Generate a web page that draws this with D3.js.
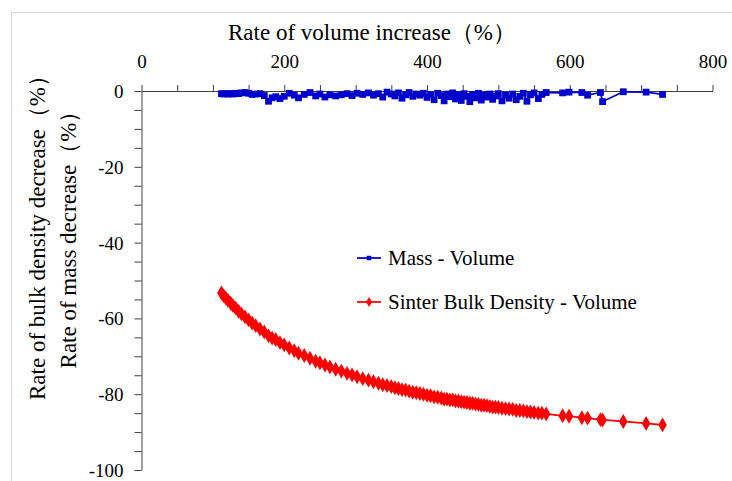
<!DOCTYPE html>
<html>
<head>
<meta charset="utf-8">
<script src="https://cdn.jsdelivr.net/npm/d3@7"></script>
<style>
  body { margin: 0; background: #fff; }
  svg { display: block; }
</style>
</head>
<body>
<svg id="chart"></svg>
<script>
// rate of volume increase (%), shared by both series
const volume = [
  112, 115, 118, 121, 125, 128, 132, 136, 140, 145,
  150, 155, 160, 166, 172, 178, 183, 188, 194, 200,
  207, 214, 220, 228, 236, 244, 250, 257, 264, 272,
  280, 288, 295, 302, 310, 318, 325, 332, 338, 344,
  350, 355, 360, 365, 370, 375, 380, 385, 390, 395,
  400, 405, 410, 415, 420, 424, 428, 432, 436, 440,
  444, 448, 452, 456, 460, 464, 468, 472, 476, 480,
  484, 488, 492, 496, 500, 505, 510, 515, 520, 525,
  530, 535, 540, 545, 550, 556, 561, 567, 590, 599,
  617, 625, 643, 646, 675, 707, 730
];

// Mass - Volume
const massRate = [
  -0.7, -0.8, -0.7, -0.8, -0.7, -0.8, -0.6, -0.7, -0.5, -0.4,
  -0.6, -0.9, -0.8, -0.7, -1.2, -2.7, -1.8, -1.5, -2.0, -1.4,
  -0.6, -1.1, -1.8, -0.9, -0.4, -1.3, -0.8, -1.6, -1.0, -1.3,
  -1.0, -0.7, -1.2, -0.6, -0.9, -0.5, -1.1, -0.7, -1.6, -0.3,
  -0.8, -1.3, -0.5, -1.9, -1.0, -0.4, -1.4, -0.8, -1.1, -0.6,
  -1.7, -0.9, -2.3, -0.6, -1.2, -2.6, -0.8, -1.5, -0.5, -2.1,
  -1.0, -2.5, -0.7, -1.4, -2.8, -0.9, -1.8, -0.6, -2.4, -1.1,
  -1.6, -0.8, -2.2, -1.3, -0.7, -2.6, -1.1, -1.9, -0.8, -2.3,
  -1.4, -0.6, -2.7, -1.0, -0.5, -2.0, -0.9, -0.4, -0.5, -0.3,
  -0.4, -1.1, -0.4, -2.8, -0.2, -0.3, -0.9
];

// Sinter Bulk Density - Volume
const densityRate = [
  -53.3, -54.0, -54.6, -55.2, -56.0, -56.6, -57.3, -58.1, -58.8, -59.6,
  -60.4, -61.2, -61.9, -62.8, -63.6, -64.6, -65.2, -65.6, -66.4, -67.0,
  -67.8, -68.5, -69.2, -69.8, -70.5, -71.3, -71.7, -72.3, -72.8, -73.4,
  -73.9, -74.5, -74.9, -75.4, -75.9, -76.3, -76.7, -77.1, -77.5, -77.7,
  -78.0, -78.3, -78.5, -78.8, -78.9, -79.2, -79.5, -79.6, -79.8, -80.0,
  -80.3, -80.4, -80.7, -80.8, -81.0, -81.3, -81.3, -81.5, -81.5, -81.8,
  -81.8, -82.0, -82.1, -82.2, -82.4, -82.4, -82.6, -82.7, -82.9, -82.9,
  -83.0, -83.2, -83.4, -83.4, -83.5, -83.7, -83.8, -83.9, -84.0, -84.3,
  -84.3, -84.4, -84.6, -84.7, -84.8, -85.0, -85.0, -85.2, -85.7, -85.8,
  -86.2, -86.3, -86.7, -86.8, -87.2, -87.7, -88.1
];

const xTicks = d3.range(0, 801, 50);
const yTicks = d3.range(-100, 1, 5);

const width = 732, height = 481;
const serif = '"Liberation Serif", serif';
const svg = d3.select('#chart').attr('width', width).attr('height', height)
  .style('font-family', serif, 'important');

// chart frame, things outside it are clipped
svg.append('clipPath').attr('id', 'frame')
  .append('rect').attr('x', 11).attr('y', 12).attr('width', width).attr('height', height);
const root = svg.append('g').attr('clip-path', 'url(#frame)');
root.append('rect')
  .attr('x', 11.5).attr('y', 12.5).attr('width', width).attr('height', height)
  .attr('fill', '#fff').attr('stroke', '#d9d9d9');

const x = d3.scaleLinear().domain([0, 800]).range([141.5, 712.5]);
const y = d3.scaleLinear().domain([-100, 0]).range([470, 91]);

// axis generator writes its own font attrs on the group, so reset them after
function styleAxis(g, dy) {
  g.attr('font-family', null).attr('font-size', 19);
  g.selectAll('path, line').attr('stroke', '#404040');
  g.selectAll('text').attr('fill', '#000').attr('dy', dy)
    .style('font-family', serif, 'important');
}

// x axis sits on y = 0, ticks point up, labels above
root.append('g')
  .attr('transform', `translate(0,${y(0)})`)
  .call(d3.axisTop(x).tickValues(xTicks).tickSize(6).tickSizeOuter(0).tickPadding(17)
    .tickFormat(d => d % 200 === 0 ? String(d) : ''))
  .call(styleAxis, 0);

root.append('g')
  .attr('transform', `translate(${x(0)},0)`)
  .call(d3.axisLeft(y).tickValues(yTicks).tickSize(7).tickSizeOuter(0).tickPadding(11)
    .tickFormat(d => d % 20 === 0 ? String(d) : ''))
  .call(styleAxis, '0.34em');

// titles
const title = (tr, txt) => root.append('text')
  .attr('transform', tr)
  .attr('text-anchor', 'middle')
  .style('font-family', serif, 'important')
  .attr('font-size', 23)
  .text(txt);

title('translate(372,40)', 'Rate of volume increase（%）');
title('translate(45,232) rotate(-90)', 'Rate of bulk density decrease（%）');
title('translate(76,234) rotate(-90)', 'Rate of mass decrease（%）');

const massPts = volume.map((v, i) => [v, massRate[i]]);
const densPts = volume.map((v, i) => [v, densityRate[i]]);
const line = d3.line().x(d => x(d[0])).y(d => y(d[1]));

const blue = '#0000cc', red = '#ff0000';
const square = d3.symbol().type(d3.symbolSquare).size(46);
const diamond = d3.symbol().type(d3.symbolDiamond).size(64);

root.append('path').datum(massPts)
  .attr('d', line).attr('fill', 'none').attr('stroke', blue).attr('stroke-width', 1.75);
root.append('g').selectAll('path').data(massPts).join('path')
  .attr('transform', d => `translate(${x(d[0])},${y(d[1])})`)
  .attr('d', square).attr('fill', blue);

root.append('path').datum(densPts)
  .attr('d', line).attr('fill', 'none').attr('stroke', red).attr('stroke-width', 1.75);
root.append('g').selectAll('path').data(densPts).join('path')
  .attr('transform', d => `translate(${x(d[0])},${y(d[1])})`)
  .attr('d', diamond).attr('fill', red);

// legend
const legend = [
  { name: 'Mass - Volume', color: blue, sym: d3.symbol().type(d3.symbolSquare).size(20), y: 258 },
  { name: 'Sinter Bulk Density - Volume', color: red, sym: d3.symbol().type(d3.symbolDiamond).size(30), y: 302 }
];
const lg = root.append('g').selectAll('g').data(legend).join('g')
  .attr('transform', d => `translate(357,${d.y})`);
lg.append('line').attr('x1', 0).attr('x2', 24)
  .attr('stroke', d => d.color).attr('stroke-width', 1.75);
lg.append('path').attr('transform', 'translate(12,0)')
  .attr('d', d => d.sym()).attr('fill', d => d.color);
lg.append('text').attr('x', 31).attr('dy', '0.34em')
  .style('font-family', serif, 'important')
  .attr('font-size', 21).text(d => d.name);
</script>
</body>
</html>
